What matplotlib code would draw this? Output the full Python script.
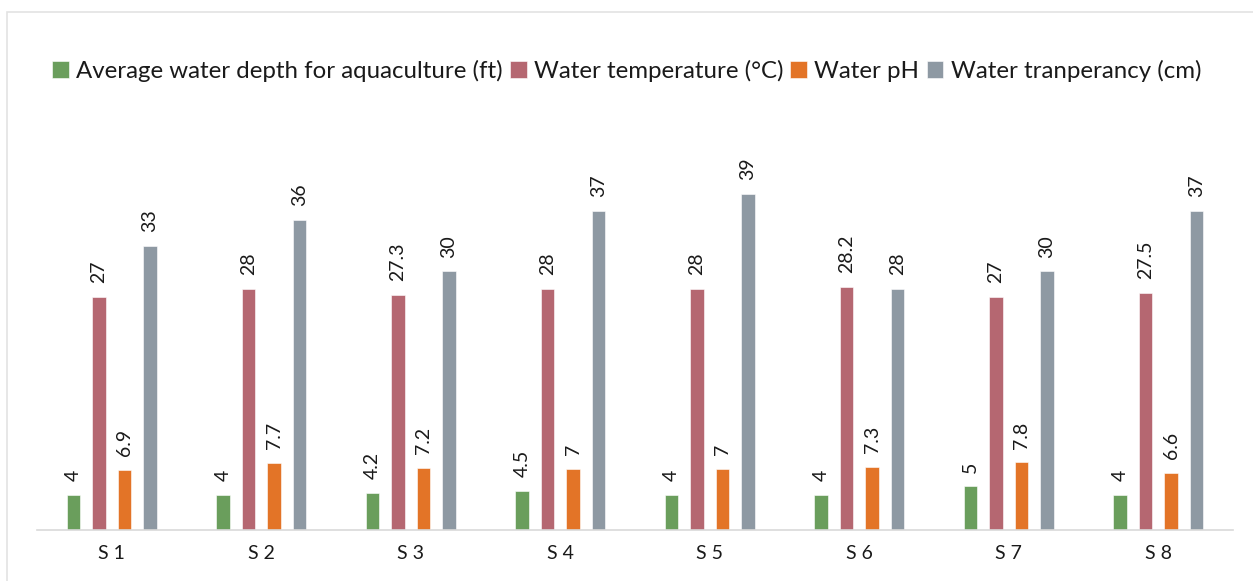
import matplotlib
matplotlib.use("Agg")
import matplotlib.pyplot as plt
from matplotlib.patches import Rectangle
import numpy as np

categories = ["S 1", "S 2", "S 3", "S 4", "S 5", "S 6", "S 7", "S 8"]
series_names = ["Average water depth for aquaculture (ft)", "Water temperature (°C)",
                "Water pH", "Water tranperancy (cm)"]
depth = [4, 4, 4.2, 4.5, 4, 4, 5, 4]
temperature = [27, 28, 27.3, 28, 28, 28.2, 27, 27.5]
ph = [6.9, 7.7, 7.2, 7, 7, 7.3, 7.8, 6.6]
transparency = [33, 36, 30, 37, 39, 28, 30, 37]
colors = ["#6A9E5C", "#B56771", "#E37427", "#8E99A3"]

plt.rcParams['font.family'] = ['Lato', 'DejaVu Sans']

fig = plt.figure(figsize=(12.53, 5.81), dpi=100)
fig.patches.append(Rectangle((7/1253, -0.1), 1.2, (581-12)/581 + 0.1, transform=fig.transFigure,
                             fill=False, edgecolor="#E3E3E3", linewidth=1.2))
ax = fig.add_axes([37/1253, 51.5/581, 1196/1253, 0.6661])

x = np.arange(len(categories))
pitch = 0.1706
width = 0.0903
all_series = [depth, temperature, ph, transparency]
for i, (vals, name, c) in enumerate(zip(all_series, series_names, colors)):
    xs = x + (i - 1.5) * pitch
    ax.bar(xs, vals, width=width, color=c, label=name, edgecolor="white", linewidth=0.4)
    for xi, v in zip(xs, vals):
        ax.annotate(f"{v:g}", (xi, v), xytext=(0, 10), textcoords="offset points",
                    rotation=90, ha="center", va="bottom", fontsize=14, color="#1a1a1a")

ax.set_xlim(-0.5, len(categories) - 0.5)
ax.set_ylim(0, 45)
ax.set_xticks(x)
ax.set_xticklabels(categories, fontsize=14, color="#1a1a1a")
ax.tick_params(axis='x', length=0, pad=11)
ax.set_yticks([])
for s in ["top", "right", "left"]:
    ax.spines[s].set_visible(False)
ax.spines["bottom"].set_color("#D9D9D9")
ax.spines["bottom"].set_linewidth(1.2)

fig.legend(loc="center", bbox_to_anchor=(0.5, 1 - 71/581), ncol=4, frameon=False,
           fontsize=17.3, handlelength=0.7, handleheight=0.7, handletextpad=0.3,
           columnspacing=0.3, labelcolor="#1a1a1a")

fig.savefig("out.png", dpi=100)
